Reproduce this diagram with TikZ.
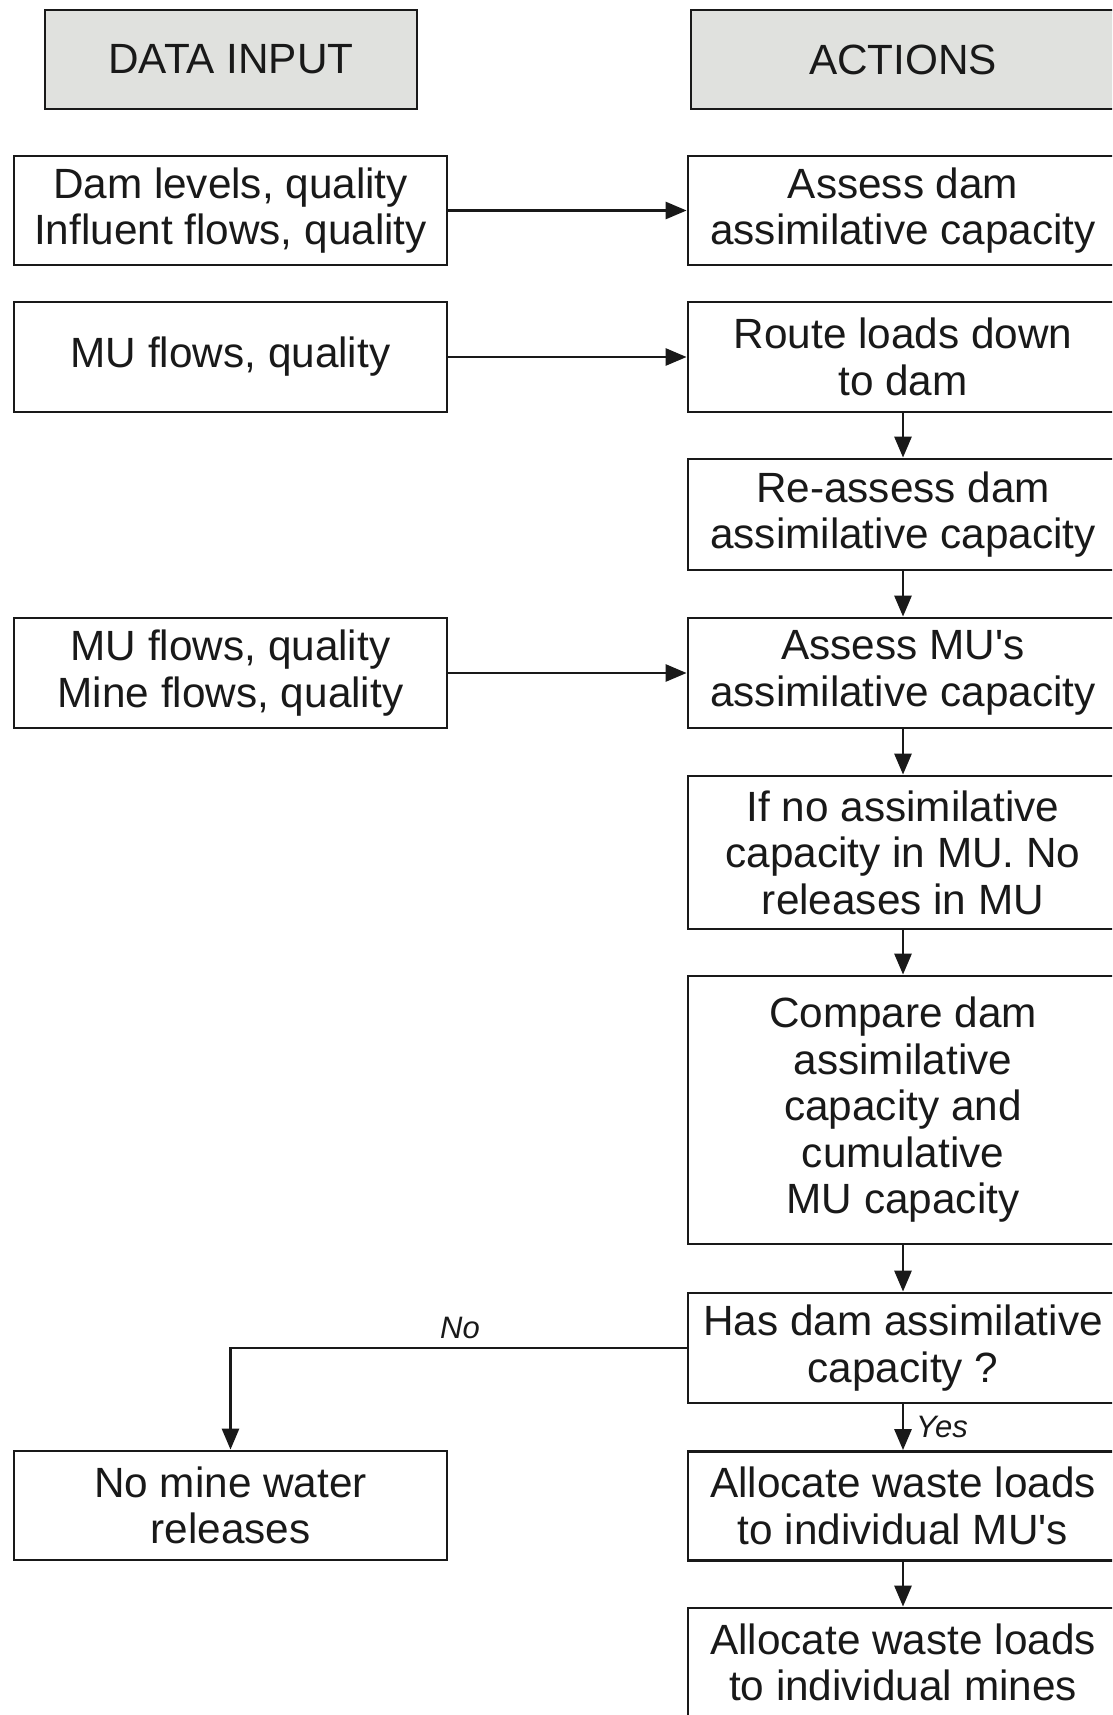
\documentclass[tikz,border=0pt]{standalone}
\usepackage{fontspec}
\setmainfont{Liberation Sans}[Ligatures=TeXOff]
\usetikzlibrary{arrows.meta}
\definecolor{headgray}{RGB}{224,225,222}
\definecolor{ink}{RGB}{25,25,25}
\begin{document}
\begin{tikzpicture}[x=1pt,y=-1pt,
  box/.style={draw=ink, line width=2.8pt, align=center, inner sep=0pt,
    minimum height=109pt, font=\fontsize{42.3}{46.5}\selectfont, text=ink},
  lbox/.style={box, minimum width=433pt},
  rbox/.style={box, minimum width=430pt},
  hdr/.style={box, fill=headgray, minimum height=99pt},
  arr/.style={draw=ink, line width=2.8pt, -{Triangle[length=21pt,width=17pt]}},
  lab/.style={font=\fontsize{31}{34}\selectfont\itshape, text=ink, inner sep=0pt}]
\useasboundingbox (0,0) rectangle (1112,1715);
\clip (0,0) rectangle (1112,1715);
\fill[white] (0,0) rectangle (1112,1715);
\node[hdr, minimum width=372pt] (h1) at (231,59.5) {DATA INPUT};
\node[hdr, minimum width=424pt] (h2) at (903,59.5) {ACTIONS};
\node[lbox] (d1) at (230.5,210.5) {Dam levels, quality\\Influent flows, quality};
\node[rbox] (a1) at (903,210.5) {Assess dam\\assimilative capacity};
\node[lbox, minimum height=110pt] (d2) at (230.5,357) {MU flows, quality};
\node[rbox, minimum height=110pt] (a2) at (903,357) {Route loads down\\to dam};
\node[rbox, minimum height=111pt] (a3) at (903,514.5) {Re-assess dam\\assimilative capacity};
\node[lbox, minimum height=110pt] (d3) at (230.5,673) {MU flows, quality\\Mine flows, quality};
\node[rbox, minimum height=110pt] (a4) at (903,673) {Assess MU's\\assimilative capacity};
\node[rbox, minimum height=153pt] (a5) at (903,852.5) {If no assimilative\\capacity in MU. No\\releases in MU};
\node[rbox, minimum height=268pt] (a6) at (903,1110) {Compare dam\\assimilative\\capacity and\\cumulative\\MU capacity};
\node[rbox, minimum height=110pt] (a7) at (903,1348) {Has dam assimilative\\capacity ?};
\node[lbox] (d4) at (230.5,1505.5) {No mine water\\releases};
\node[rbox] (a8) at (903,1506) {Allocate waste loads\\to individual MU's};
\node[rbox] (a9) at (903,1662.5) {Allocate waste loads\\to individual mines};
\draw[arr] (d1.east) -- (a1.west);
\draw[arr] (d2.east) -- (a2.west);
\draw[arr] (d3.east) -- (a4.west);
\draw[arr] (a2.south) -- (a3.north);
\draw[arr] (a3.south) -- (a4.north);
\draw[arr] (a4.south) -- (a5.north);
\draw[arr] (a5.south) -- (a6.north);
\draw[arr] (a6.south) -- (a7.north);
\draw[arr] (a7.south) -- (a8.north);
\draw[arr] (a8.south) -- (a9.north);
\draw[arr] (a7.west) -| (d4.north);
\node[lab] (no) at (460,1328) {No};
\node[lab, anchor=west] (yes) at (916,1427) {Yes};
\end{tikzpicture}
\end{document}
